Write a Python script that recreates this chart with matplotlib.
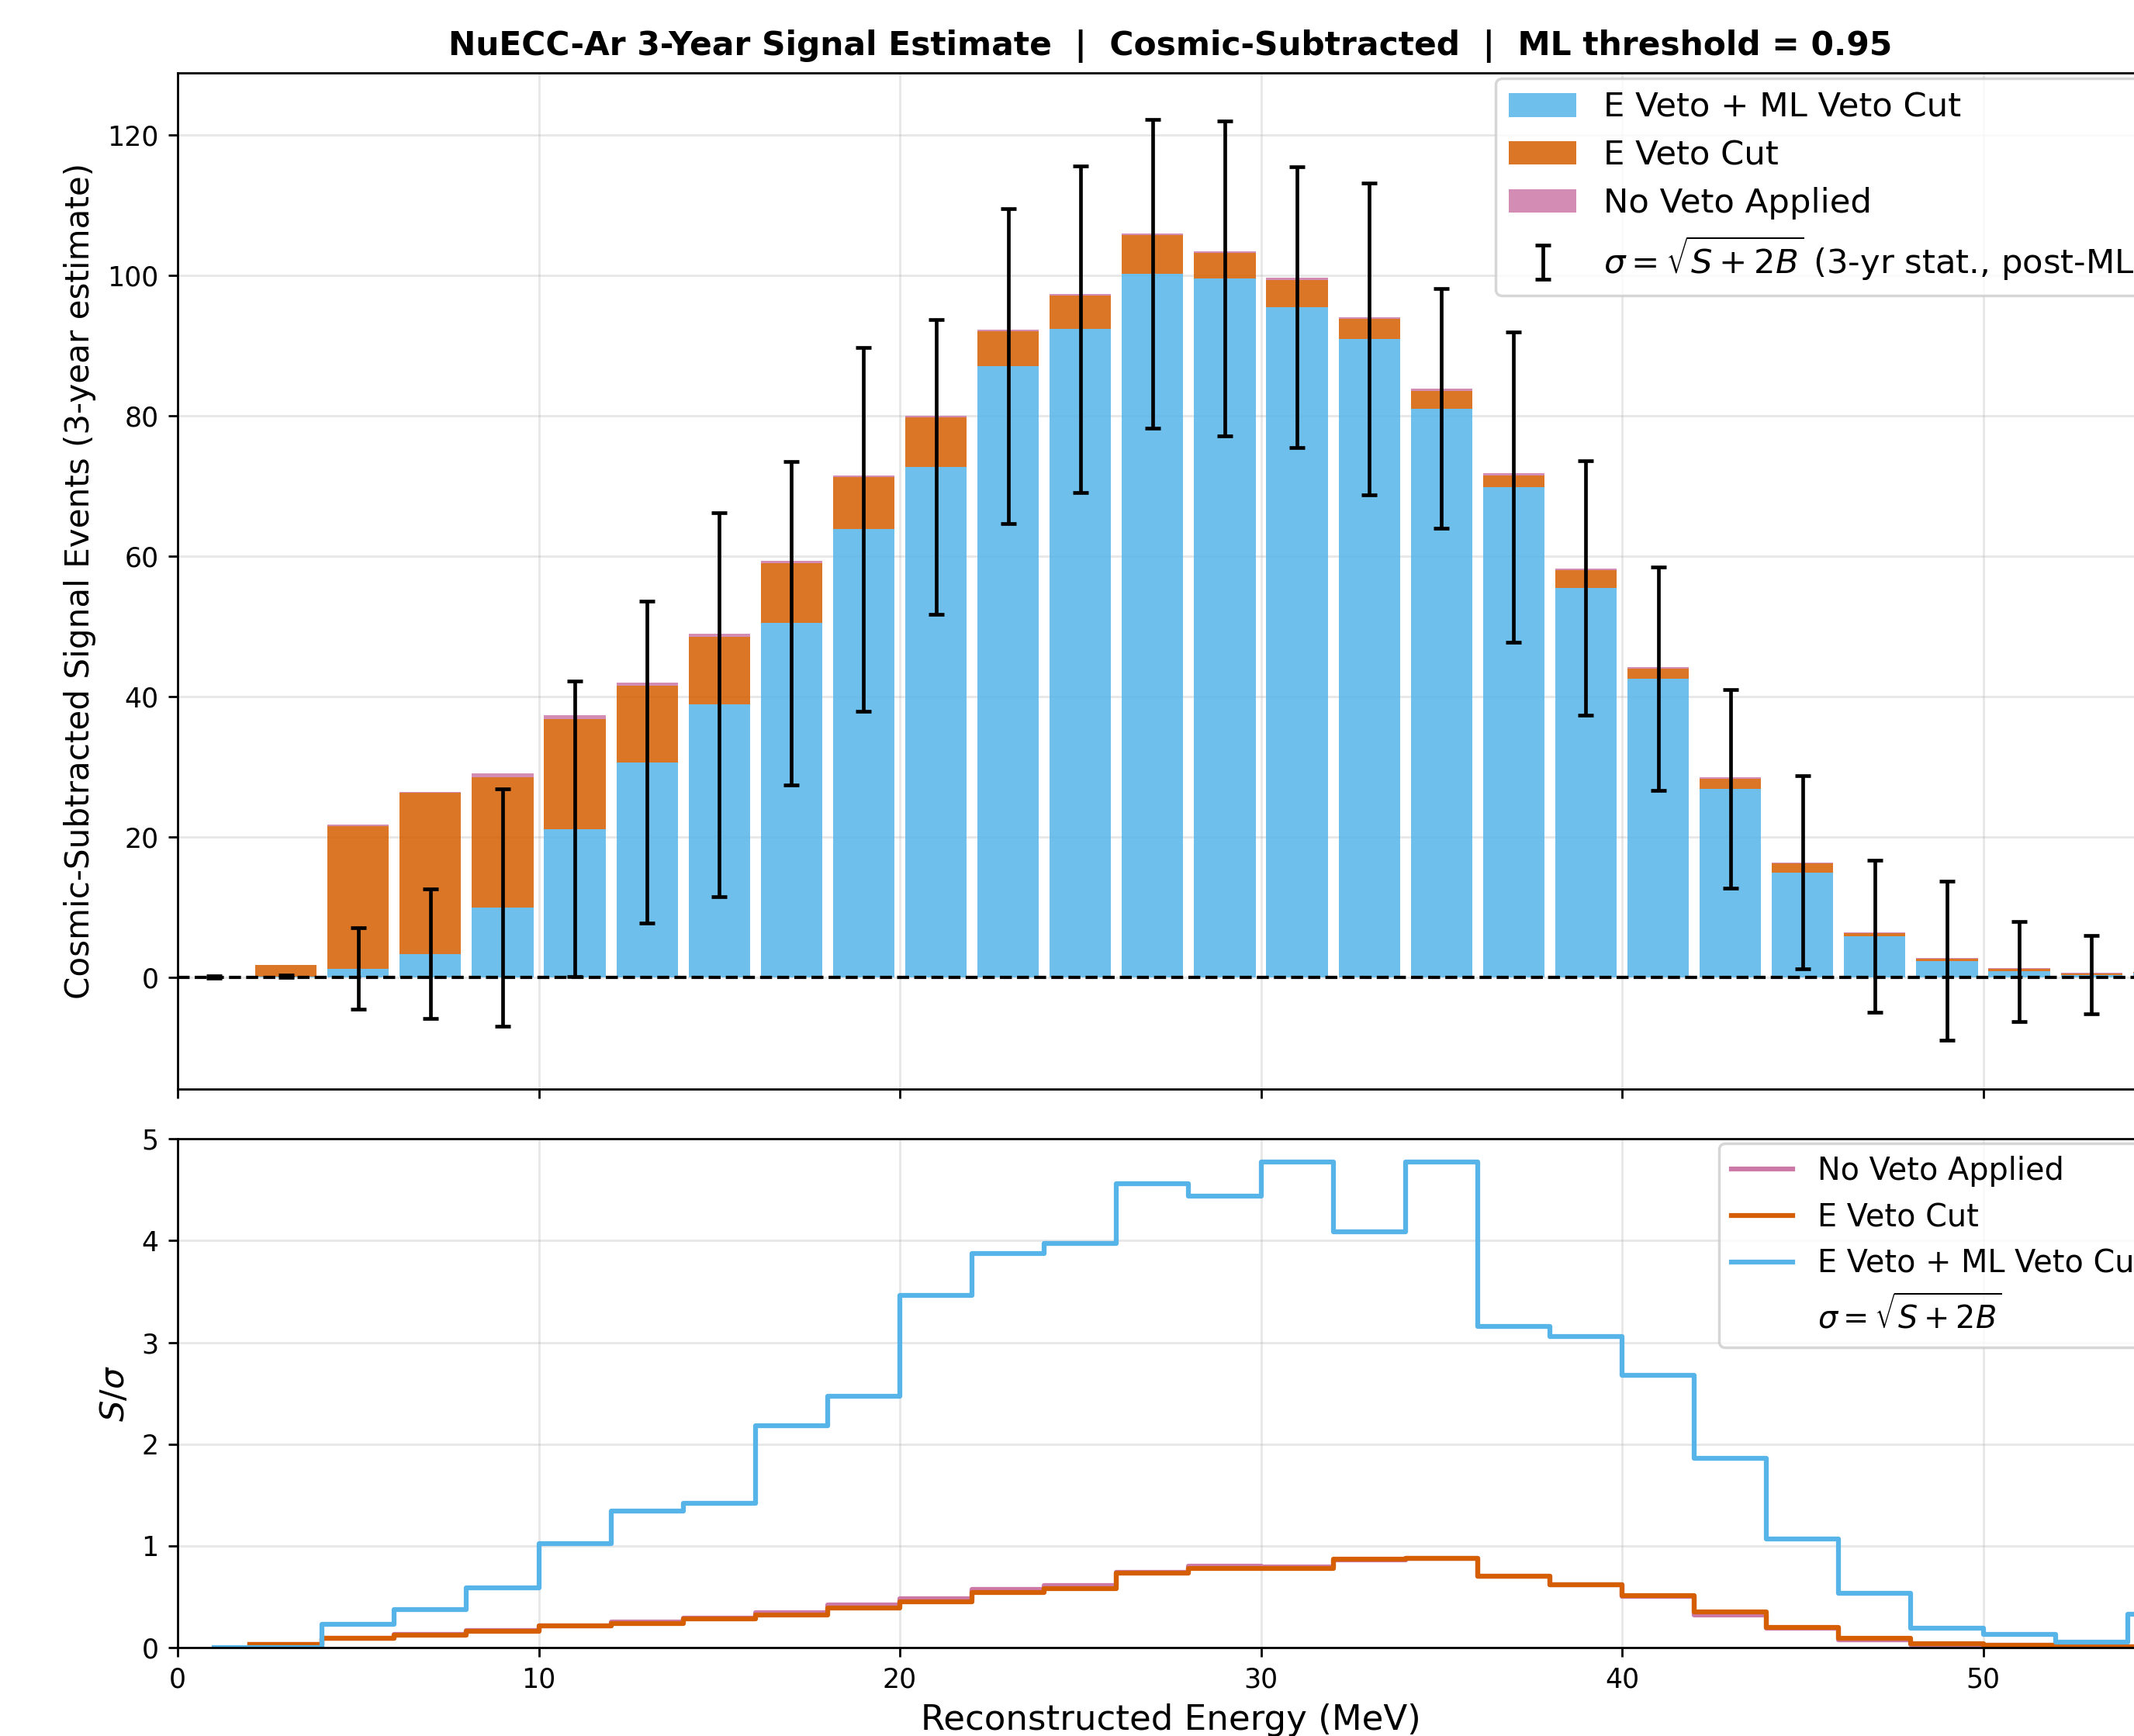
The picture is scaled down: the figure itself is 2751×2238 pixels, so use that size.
import numpy as np
import matplotlib
matplotlib.use("Agg")
import matplotlib.pyplot as plt
from matplotlib.lines import Line2D

# ---------------- data ----------------
centers = [1, 3, 5, 7, 9, 11, 13, 15, 17, 19, 21, 23, 25, 27,
           29, 31, 33, 35, 37, 39, 41, 43, 45, 47, 49, 51, 53, 55]

# top panel: cumulative heights of the stacked bars
s_ml = [0.0, 0.1, 1.2, 3.3, 9.9, 21.1, 30.6, 38.8, 50.4, 63.8, 72.7, 87.0, 92.3, 100.2,
        99.5, 95.4, 90.9, 81.0, 69.8, 55.4, 42.5, 26.8, 14.9, 5.8, 2.3, 0.8, 0.3, 0.6]
s_eveto = [0.0, 1.7, 21.5, 26.2, 28.5, 36.8, 41.5, 48.5, 59.0, 71.2, 79.7, 92.0, 97.1, 105.7,
           103.2, 99.3, 93.8, 83.5, 71.5, 58.0, 43.9, 28.2, 16.2, 6.3, 2.6, 1.2, 0.5, 0.7]
s_noveto = [0.0, 1.7, 21.7, 26.4, 29.0, 37.3, 41.9, 48.9, 59.3, 71.5, 80.0, 92.2, 97.3, 105.9,
            103.4, 99.6, 94.0, 83.8, 71.8, 58.2, 44.1, 28.5, 16.3, 6.4, 2.7, 1.3, 0.6, 0.7]
sigma_ml = [0.2, 0.2, 5.8, 9.2, 16.9, 21.05, 22.95, 27.35, 23.0, 25.9, 21.0, 22.45, 23.25, 22.0,
            22.4, 20.0, 22.2, 17.05, 22.1, 18.15, 15.9, 14.15, 13.75, 10.85, 11.35, 7.15, 5.6, 1.8]

# bottom panel: S / sigma
sig_noveto = [np.nan, 0.03, 0.09, 0.13, 0.17, 0.21, 0.25, 0.29, 0.34, 0.42, 0.48, 0.57, 0.61, 0.74,
              0.80, 0.79, 0.86, 0.88, 0.70, 0.62, 0.50, 0.32, 0.19, 0.08, 0.03, 0.02, 0.01, 0.01]
sig_eveto = [np.nan, 0.03, 0.09, 0.12, 0.16, 0.21, 0.24, 0.28, 0.32, 0.39, 0.45, 0.54, 0.58, 0.73,
             0.78, 0.78, 0.87, 0.88, 0.70, 0.62, 0.51, 0.35, 0.20, 0.09, 0.04, 0.02, 0.01, 0.01]
sig_ml = [0.0, 0.0, 0.23, 0.37, 0.59, 1.02, 1.34, 1.42, 2.18, 2.47, 3.46, 3.87, 3.97, 4.56,
          4.44, 4.77, 4.09, 4.77, 3.16, 3.06, 2.68, 1.86, 1.07, 0.53, 0.19, 0.13, 0.05, 0.33]

lbl_ml = "E Veto + ML Veto Cut"
lbl_e = "E Veto Cut"
lbl_no = "No Veto Applied"
title = "NuECC-Ar 3-Year Signal Estimate  |  Cosmic-Subtracted  |  ML threshold = 0.95"

# ---------------- styling ----------------
C_BLUE = "#56B4E9"
C_ORANGE = "#D55E00"
C_PINK = "#CC79A7"

DPI = 250
W_PX, H_PX = 2751, 2238
fig = plt.figure(figsize=(W_PX / DPI, H_PX / DPI), dpi=DPI)

x = np.array(centers, dtype=float)
b = np.array(s_ml)
o = np.array(s_eveto)
p = np.array(s_noveto)

left = 229 / W_PX
width = 55 * 46.55 / W_PX
ax1 = fig.add_axes([left, 1 - 1404.3 / H_PX, width, (1404.3 - 94) / H_PX])
ax2 = fig.add_axes([left, 1 - 2124 / H_PX, width, (2124 - 1468.3) / H_PX])

bw = 1.7
ax1.bar(x, b, width=bw, color=C_BLUE, alpha=0.85, label=lbl_ml, zorder=2)
ax1.bar(x, o - b, bottom=b, width=bw, color=C_ORANGE, alpha=0.85, label=lbl_e, zorder=2)
ax1.bar(x, p - o, bottom=o, width=bw, color=C_PINK, alpha=0.85, label=lbl_no, zorder=2)
ax1.axhline(0, color="k", ls="--", lw=1.2, zorder=3)
ax1.errorbar(x, b, yerr=sigma_ml, fmt="none", ecolor="k", elinewidth=1.35,
             capsize=3, capthick=1.35, zorder=4,
             label=r"$\sigma = \sqrt{S + 2B}$ (3-yr stat., post-ML)")
ax1.set_xlim(0, 55)
ax1.set_ylim(-16, 128.8)
ax1.set_yticks([0, 20, 40, 60, 80, 100, 120])
ax1.set_xticks([0, 10, 20, 30, 40, 50])
ax1.tick_params(labelbottom=False, labelsize=10)
ax1.grid(True, alpha=0.3)
ax1.set_axisbelow(True)
ax1.set_ylabel("Cosmic-Subtracted Signal Events (3-year estimate)", fontsize=12.1)
ax1.set_title(title, fontsize=12.2, fontweight="bold", pad=6.5)
ax1.legend(loc="upper right", fontsize=12.5, borderaxespad=0.15, labelspacing=0.45)

ax2.step(x, sig_noveto, where="mid", color=C_PINK, lw=1.8, label=lbl_no)
ax2.step(x, sig_eveto, where="mid", color=C_ORANGE, lw=1.8, label=lbl_e)
ax2.step(x, sig_ml, where="mid", color=C_BLUE, lw=1.8, label=lbl_ml)
ax2.set_xlim(0, 55)
ax2.set_ylim(0, 5)
ax2.set_xticks([0, 10, 20, 30, 40, 50])
ax2.set_yticks([0, 1, 2, 3, 4, 5])
ax2.tick_params(labelsize=10)
ax2.grid(True, alpha=0.3)
ax2.set_axisbelow(True)
ax2.set_xlabel("Reconstructed Energy (MeV)", fontsize=13)
ax2.set_ylabel(r"$S/\sigma$", fontsize=12.5)
h, l = ax2.get_legend_handles_labels()
h.append(Line2D([], [], linestyle="none"))
l.append(r"$\sigma = \sqrt{S + 2B}$")
ax2.legend(h, l, loc="upper right", fontsize=11.45, borderaxespad=0.15, labelspacing=0.5)

fig.savefig("out.png", dpi=DPI)
